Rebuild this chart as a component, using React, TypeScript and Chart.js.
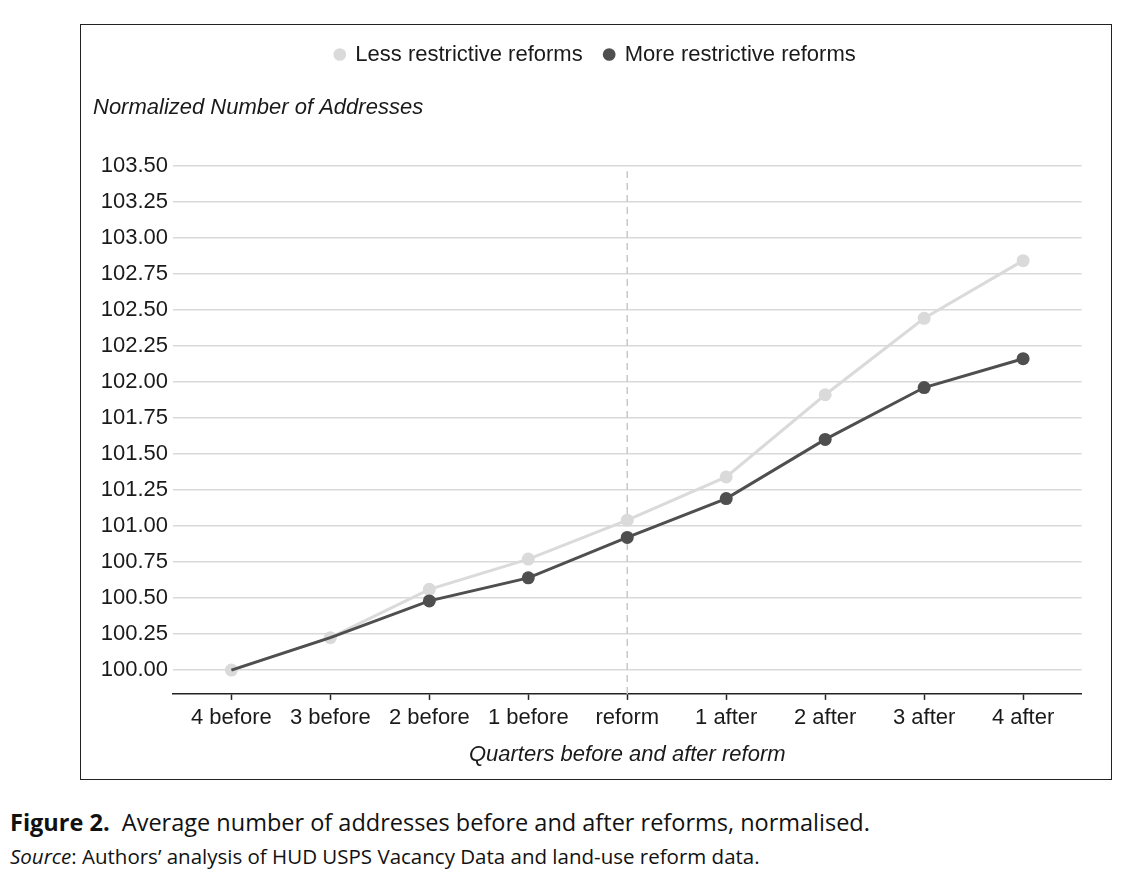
import { useEffect, useRef } from 'react';
import { Chart, registerables } from 'chart.js';

Chart.register(...registerables);

const quarters = ['4 before', '3 before', '2 before', '1 before', 'reform', '1 after', '2 after', '3 after', '4 after'];
const lessRestrictive = [100.0, 100.225, 100.56, 100.77, 101.04, 101.34, 101.91, 102.44, 102.84];
const moreRestrictive = [100.0, 100.225, 100.48, 100.64, 100.92, 101.19, 101.6, 101.96, 102.16];
// the darker series shows no markers on the first two quarters
const moreMarkers = [0, 0, 6.5, 6.5, 6.5, 6.5, 6.5, 6.5, 6.5];
const yTicks = [100.0, 100.25, 100.5, 100.75, 101.0, 101.25, 101.5, 101.75, 102.0, 102.25, 102.5, 102.75, 103.0, 103.25, 103.5];
const reformIndex = 4;
const reformLineRange = [99.835, 103.46];

const LIGHT = '#dadada';
const DARK = '#4f4f4f';
const TEXT = '#1a1a1a';

export default function App() {
  const chartRef = useRef<HTMLCanvasElement>(null);
  const chartInstance = useRef<Chart | null>(null);

  useEffect(() => {
    if (chartInstance.current) {
      chartInstance.current.destroy();
    }
    if (!chartRef.current) return;

    Chart.defaults.font.family = '"Liberation Sans", Arial, sans-serif';
    Chart.defaults.color = TEXT;

    chartInstance.current = new Chart(chartRef.current, {
      type: 'line',
      data: {
        datasets: [
          {
            label: 'Less restrictive reforms',
            data: lessRestrictive.map((y, x) => ({ x, y })),
            borderColor: LIGHT,
            backgroundColor: LIGHT,
            pointBackgroundColor: LIGHT,
            pointBorderColor: LIGHT,
            borderWidth: 3,
            pointRadius: 6.5,
            pointBorderWidth: 0,
            pointStyle: 'circle',
            order: 1,
          },
          {
            label: 'More restrictive reforms',
            data: moreRestrictive.map((y, x) => ({ x, y })),
            borderColor: DARK,
            backgroundColor: DARK,
            pointBackgroundColor: DARK,
            pointBorderColor: DARK,
            borderWidth: 3,
            pointRadius: moreMarkers,
            pointBorderWidth: 0,
            pointStyle: 'circle',
            order: 0,
          },
          {
            label: 'reform',
            data: reformLineRange.map((y) => ({ x: reformIndex, y })),
            borderColor: '#c8c8c8',
            borderWidth: 1.5,
            borderDash: [7, 5],
            pointRadius: 0,
            order: 2,
          },
        ],
      },
      options: {
        animation: false,
        responsive: true,
        maintainAspectRatio: false,
        layout: { padding: { left: 11, right: 12, top: 1.5, bottom: 0 } },
        plugins: {
          legend: {
            position: 'top',
            weight: 3000,
            labels: {
              usePointStyle: true,
              boxWidth: 9,
              boxHeight: 9,
              padding: 22,
              color: TEXT,
              font: { size: 22 },
              filter: (item) => item.datasetIndex !== 2,
              sort: (a, b) => a.datasetIndex - b.datasetIndex,
            },
          },
          title: {
            display: true,
            text: 'Normalized Number of Addresses',
            align: 'start',
            weight: 500,
            color: TEXT,
            font: { size: 22, style: 'italic', weight: 'normal', lineHeight: 1 },
            padding: { top: 21.5, bottom: 46.5 },
          },
          tooltip: { enabled: false },
        },
        scales: {
          x: {
            type: 'linear',
            min: -0.59,
            max: 8.59,
            afterBuildTicks: (scale) => {
              scale.ticks = quarters.map((_, i) => ({ value: i }));
            },
            ticks: {
              autoSkip: false,
              maxRotation: 0,
              padding: 5,
              color: TEXT,
              font: { size: 22 },
              callback: (v) => quarters[Number(v)] ?? '',
            },
            grid: {
              drawOnChartArea: false,
              drawTicks: true,
              tickLength: 6,
              tickWidth: 1.5,
              tickColor: '#222',
            },
            border: { display: true, color: '#222', width: 1.5 },
            title: {
              display: true,
              text: 'Quarters before and after reform',
              color: TEXT,
              font: { size: 22, style: 'italic' },
              padding: { top: 5.5, bottom: 9.8 },
            },
          },
          y: {
            min: reformLineRange[0],
            max: yTicks[yTicks.length - 1],
            afterBuildTicks: (scale) => {
              scale.ticks = yTicks.map((v) => ({ value: v }));
            },
            afterFit: (scale) => {
              scale.width = 80;
            },
            ticks: {
              padding: 5,
              color: TEXT,
              font: { size: 22 },
              callback: (v) => Number(v).toFixed(2),
            },
            grid: { color: '#d9d9d9', lineWidth: 1.5, drawTicks: false },
            border: { display: false },
          },
          spacer: {
            type: 'linear',
            position: 'right',
            display: true,
            grid: { display: false },
            ticks: { display: false },
            border: { display: false },
            afterFit: (scale) => {
              scale.width = 16.5;
            },
          },
        },
      },
    });

    return () => {
      if (chartInstance.current) {
        chartInstance.current.destroy();
        chartInstance.current = null;
      }
    };
  }, []);

  return (
    <div style={{ position: 'absolute', left: 0, top: 0, width: 1140, height: 870, background: '#fff' }}>
      {/* chart frame */}
      <div
        style={{
          position: 'absolute',
          left: 80,
          top: 24,
          width: 1032,
          height: 756,
          border: '1.5px solid #222',
          boxSizing: 'border-box',
        }}
      />
      <div style={{ position: 'absolute', left: 82, top: 20, width: 1028, height: 758 }}>
        <canvas ref={chartRef}></canvas>
      </div>

      {/* caption */}
      <div
        style={{
          position: 'absolute',
          left: 10,
          top: 808,
          fontFamily: '"Open Sans", Lato, sans-serif',
          fontSize: 23.5,
          lineHeight: '29px',
          color: '#111',
          whiteSpace: 'nowrap',
        }}
      >
        <b>Figure 2.</b>&nbsp; Average number of addresses before and after reforms, normalised.
      </div>
      <div
        style={{
          position: 'absolute',
          left: 10,
          top: 844,
          fontFamily: '"Open Sans", Lato, sans-serif',
          fontSize: 20.5,
          lineHeight: '24px',
          color: '#111',
          whiteSpace: 'nowrap',
        }}
      >
        <i>Source</i>: Authors’ analysis of HUD USPS Vacancy Data and land-use reform data.
      </div>
    </div>
  );
}
